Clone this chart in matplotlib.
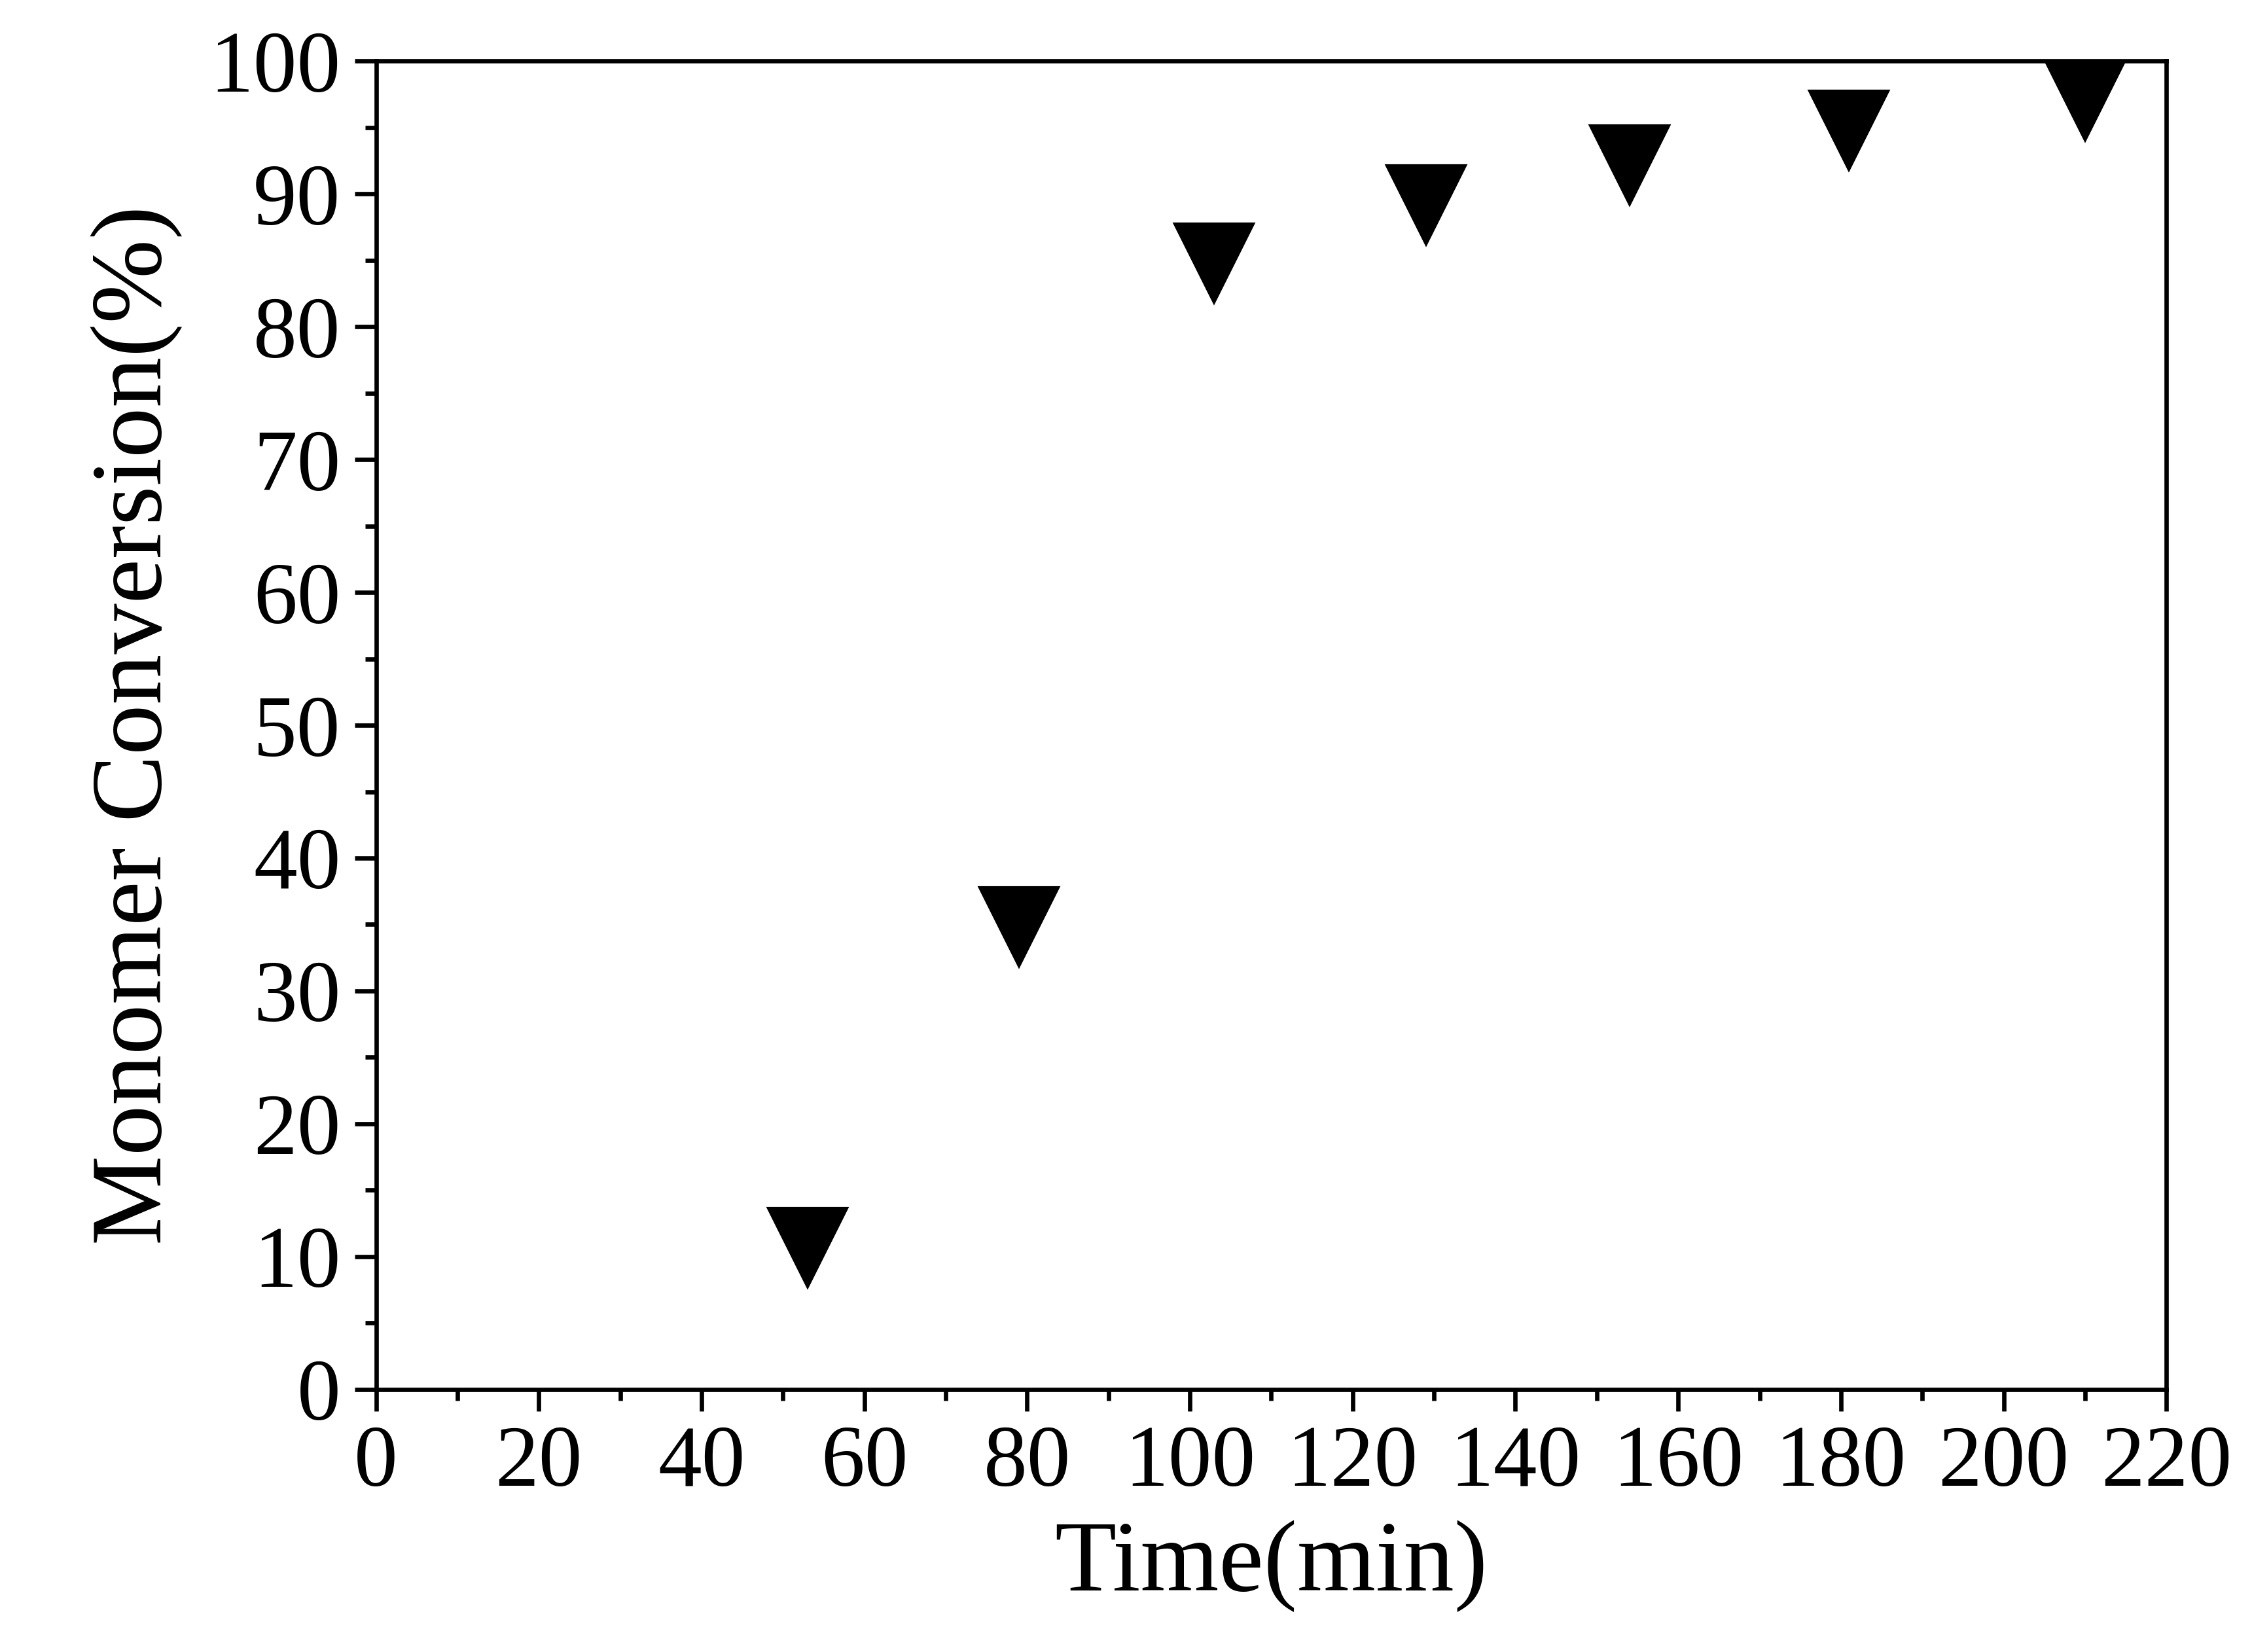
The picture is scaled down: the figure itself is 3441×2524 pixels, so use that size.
import matplotlib.pyplot as plt
from matplotlib.ticker import MultipleLocator

# Dados
tempo = [53, 79, 103, 129, 154, 181, 210]
conversao = [10.7, 34.8, 84.8, 89.2, 92.2, 94.8, 97.0]

plt.rcParams['font.family'] = ['Liberation Serif', 'DejaVu Serif']

fig = plt.figure(figsize=(3441 / 300, 2524 / 300), dpi=300)
ax = fig.add_axes([0.167, 0.159, 0.795, 0.804])

ax.plot(tempo, conversao, linestyle='none', marker='v', markersize=29, color='black')

ax.set_xlim(0, 220)
ax.set_ylim(0, 100)
ax.xaxis.set_major_locator(MultipleLocator(20))
ax.xaxis.set_minor_locator(MultipleLocator(10))
ax.yaxis.set_major_locator(MultipleLocator(10))
ax.yaxis.set_minor_locator(MultipleLocator(5))
ax.tick_params(which='major', direction='out', length=8, width=1.6, labelsize=32, pad=5)
ax.tick_params(which='minor', direction='out', length=4, width=1.6)
for s in ax.spines.values():
    s.set_linewidth(1.6)

ax.set_xlabel('Time(min)', fontsize=37, labelpad=6)
ax.set_ylabel('Monomer Conversion(%)', fontsize=37, labelpad=10)

fig.savefig('out.png', dpi=300)
